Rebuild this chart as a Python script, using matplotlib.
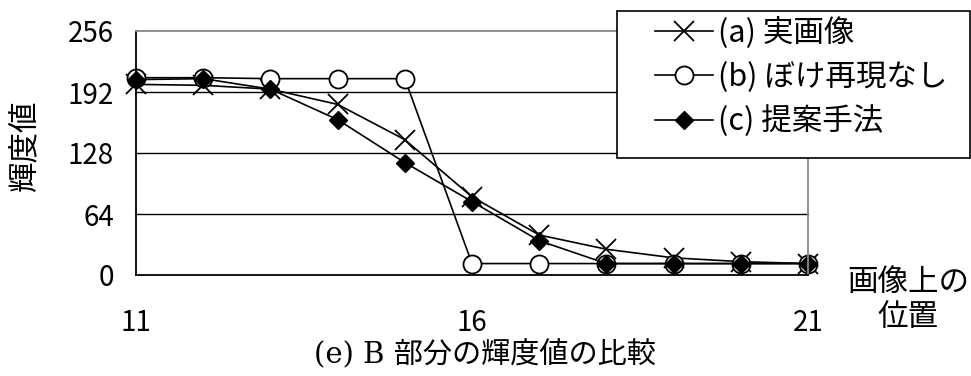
import matplotlib.pyplot as plt
from matplotlib.patches import Rectangle

plt.rcParams['font.family'] = ['Noto Sans CJK JP', 'DejaVu Sans']

positions = [11, 12, 13, 14, 15, 16, 17, 18, 19, 20, 21]
real_img = [200, 199, 195, 179, 142, 82, 42, 27, 18, 14, 12]
no_blur = [207, 207, 206, 206, 206, 12, 12, 12, 12, 12, 12]
proposed = [205, 206, 195, 163, 118, 77, 36, 12, 12, 12, 12]

labels = ['(a) 実画像', '(b) ぼけ再現なし', '(c) 提案手法']
yticks = [0, 64, 128, 192, 256]
xticks = [11, 16, 21]

W, H = 971, 376
fig = plt.figure(figsize=(W / 100, H / 100), dpi=100)
ax = fig.add_axes([136 / W, 1 - 275 / H, 672 / W, 244 / H])

ax.plot(positions, real_img, color='black', lw=1.2, marker='x', ms=14, mew=1.3, label=labels[0])
ax.plot(positions, no_blur, color='black', lw=1.2, marker='o', ms=13, mfc='white', mew=1.3, label=labels[1])
ax.plot(positions, proposed, color='black', lw=1.2, marker='D', ms=9, label=labels[2])

ax.set_xlim(11, 21)
ax.set_ylim(0, 256)
ax.set_yticks(yticks)
ax.set_xticks(xticks)
ax.tick_params(length=0, labelsize=20)
ax.tick_params(axis='x', pad=24)
ax.tick_params(axis='y', pad=16)
for y in yticks[1:4]:
    ax.axhline(y, color='black', lw=1.0, zorder=0)
ax.spines['left'].set_color('black')
ax.spines['bottom'].set_color('black')
ax.spines['right'].set_color('#888888')
ax.spines['top'].set_color('#888888')
for s in ax.spines.values():
    s.set_linewidth(1.3)
for l in ax.lines:
    l.set_clip_on(False)

fig.text(25 / W, 1 - 145 / H, '輝度値', rotation=90, fontsize=22, ha='center', va='center')
fig.text(908 / W, 1 - 300 / H, '画像上の\n位置', fontsize=22, ha='center', va='center', linespacing=1.15)
fig.text(485 / W, 1 - 355 / H, '(e) B 部分の輝度値の比較', fontsize=21, ha='center', va='center',
         family=['DejaVu Serif', 'Noto Sans CJK JP'])

# legend box sits over the top right of the axes
fig.patches.append(Rectangle((617 / W, 1 - 158 / H), 353 / W, 147 / H, transform=fig.transFigure,
                             facecolor='white', edgecolor='black', lw=1.2, zorder=3))
leg = fig.legend(loc='upper left', bbox_to_anchor=(655 / W, 1 - 17 / H), fontsize=22,
                 frameon=False, handlelength=1.9, handletextpad=0.15, borderpad=0,
                 labelspacing=0.42, borderaxespad=0)
leg.set_zorder(4)

fig.savefig('out.png', dpi=100)
